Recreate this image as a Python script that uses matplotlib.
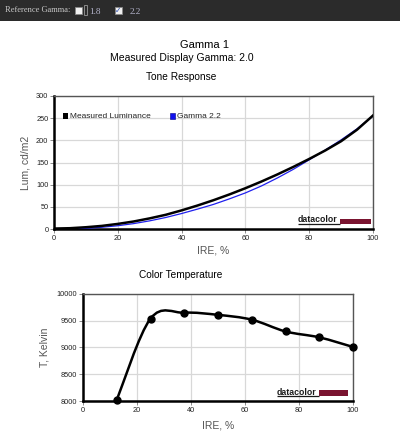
import numpy as np
import matplotlib
matplotlib.use("Agg")
import matplotlib.pyplot as plt
from matplotlib.path import Path
from matplotlib.patches import PathPatch, Rectangle

plt.rcParams['font.family'] = ['Liberation Sans', 'DejaVu Sans']

# ---- data ----
ire = [0, 5, 10, 15, 20, 25, 30, 35, 40, 45, 50, 55, 60, 65, 70, 75, 80, 85, 90, 95, 100]
measured_lum = [1, 1.8, 4, 7, 11.5, 17, 24, 32, 42, 53, 65, 78, 92, 107, 123, 140, 158, 177, 198, 224, 256]
gamma22_lum = [0, 0.3, 1.6, 3.9, 7.4, 12.2, 18.4, 25.9, 34.9, 44.9, 55.5, 68, 81.4, 97, 115, 134.5, 156, 178, 201, 226, 255]

ct_ire = [12.5, 25, 37.5, 50, 62.5, 75, 87.5, 100]
ct_kelvin = [8020, 9540, 9650, 9610, 9520, 9300, 9190, 9010]

lum_ticks = [0, 50, 100, 150, 200, 250, 300]
ire_ticks = [0, 20, 40, 60, 80, 100]
ct_ticks = [8000, 8500, 9000, 9500, 10000]

W, H = 400, 438
fig = plt.figure(figsize=(W / 100, H / 100), dpi=100)
fig.patch.set_facecolor('white')

# ---- top dark bar ----
serif = ['Liberation Serif', 'DejaVu Serif']
fig.patches.append(Rectangle((0, 1 - 21 / H), 1, 21 / H, transform=fig.transFigure,
                             facecolor='#2b2b2b', edgecolor='none', zorder=0))
fig.text(5 / W, 1 - 10.5 / H, 'Reference Gamma:', color='#c8c8c8', fontsize=6.0,
         family=serif, va='center', ha='left')
fig.patches.append(Rectangle((75 / W, 1 - 14 / H), 7 / W, 7 / H, transform=fig.transFigure,
                             facecolor='#f0f0f0', edgecolor='#888888', lw=0.6, zorder=2))
fig.patches.append(Rectangle((84 / W, 1 - 15 / H), 3 / W, 10 / H, transform=fig.transFigure,
                             facecolor='none', edgecolor='#999999', lw=0.6, zorder=2))
fig.text(89.5 / W, 1 - 11.5 / H, '1.8', color='#b8b8d0', fontsize=6.6,
         family=serif, va='center', ha='left')
fig.patches.append(Rectangle((115 / W, 1 - 14 / H), 7 / W, 7 / H, transform=fig.transFigure,
                             facecolor='#f0f0f0', edgecolor='#888888', lw=0.6, zorder=2))
fig.text(118.5 / W, 1 - 10.5 / H, '✓', color='#3050b0', fontsize=5.5,
         va='center', ha='center', family=['DejaVu Sans'])
fig.text(129.5 / W, 1 - 11.5 / H, '2.2', color='#b8b8d0', fontsize=6.6,
         family=serif, va='center', ha='left')

# ---- titles ----
fig.text(205 / W, 1 - 45 / H, 'Gamma 1', fontsize=8, ha='center', va='center', color='black')
fig.text(182 / W, 1 - 58 / H, 'Measured Display Gamma: 2.0', fontsize=7.5, ha='center', va='center', color='black')
fig.text(181 / W, 1 - 77 / H, 'Tone Response', fontsize=7.3, ha='center', va='center', color='black')
fig.text(181 / W, 1 - 275 / H, 'Color Temperature', fontsize=7.3, ha='center', va='center', color='black')


def style_axes(ax):
    ax.set_facecolor('white')
    ax.grid(True, color='#d8d8d8', lw=0.9)
    ax.set_axisbelow(True)
    for s in ['top', 'right']:
        ax.spines[s].set_color('#555555')
        ax.spines[s].set_linewidth(1.0)
    for s in ['left', 'bottom']:
        ax.spines[s].set_color('black')
        ax.spines[s].set_linewidth(1.8)
    ax.tick_params(axis='both', labelsize=5.3, length=3, width=0.6, color='#777777',
                   labelcolor='#222222', pad=1)


def logo(ax, ax_x0, ax_w, ax_bottom, ax_h, tx0, tx1, tx2, y_base, y_under, y_bar_top):
    # all inputs in figure pixels (y measured from top)
    fx = lambda v: (v - ax_x0) / ax_w
    fy = lambda v: (ax_bottom - v) / ax_h
    ax.text(fx(tx0), fy(y_base), 'datacolor', transform=ax.transAxes, fontsize=6.3,
            fontweight='bold', color='#1a1a1a', ha='left', va='baseline', zorder=5)
    ax.plot([fx(tx0), fx(tx1)], [fy(y_under), fy(y_under)], transform=ax.transAxes,
            color='#1a1a1a', lw=0.9, solid_capstyle='butt', zorder=5)
    ax.add_patch(Rectangle((fx(tx1), fy(y_under)), fx(tx2) - fx(tx1), fy(y_bar_top) - fy(y_under),
                           transform=ax.transAxes, facecolor='#7a1430', edgecolor='none', zorder=5))


# ---- Tone response ----
ax1 = fig.add_axes([54 / W, 1 - 229 / H, (373 - 54) / W, (229 - 96) / H])
style_axes(ax1)
ax1.plot(ire, gamma22_lum, color='#2020ee', lw=0.9, zorder=3)
ax1.plot(ire, measured_lum, color='black', lw=1.8, zorder=4)
ax1.set_xlim(0, 100)
ax1.set_ylim(0, 300)
ax1.set_xticks(ire_ticks)
ax1.set_yticks(lum_ticks)
ax1.set_xlabel('IRE, %', fontsize=7.5, color='#555555', labelpad=3)
ax1.set_ylabel('Lum, cd/m2', fontsize=7.5, color='#555555', labelpad=4)
# legend
ax1.add_patch(Rectangle((0.029, 0.825), 0.016, 0.045, transform=ax1.transAxes,
                        facecolor='black', edgecolor='none', zorder=5))
ax1.text(0.05, 0.848, 'Measured Luminance', transform=ax1.transAxes, fontsize=6,
         va='center', ha='left', color='#222222')
ax1.add_patch(Rectangle((0.364, 0.825), 0.016, 0.045, transform=ax1.transAxes,
                        facecolor='#1010ee', edgecolor='#000088', lw=0.4, zorder=5))
ax1.text(0.385, 0.848, 'Gamma 2.2', transform=ax1.transAxes, fontsize=6,
         va='center', ha='left', color='#222222')
logo(ax1, 54, 319, 229, 133, 298, 340, 371, 222.3, 223.5, 219)

# ---- Color temperature ----
ax2 = fig.add_axes([83 / W, 1 - 401 / H, (353 - 83) / W, (401 - 294) / H])
style_axes(ax2)

# smooth curve through points (Catmull-Rom as cubic Bezier)
px = np.array(ct_ire, float)
py = np.array(ct_kelvin, float)
pts = np.column_stack([px, py])
ext = np.vstack([pts[0], pts, pts[-1]])
verts = [tuple(pts[0])]
codes = [Path.MOVETO]
for i in range(1, len(ext) - 2):
    p0, p1, p2, p3 = ext[i - 1], ext[i], ext[i + 1], ext[i + 2]
    c1 = p1 + (p2 - p0) / 6.0
    c2 = p2 - (p3 - p1) / 6.0
    verts += [tuple(c1), tuple(c2), tuple(p2)]
    codes += [Path.CURVE4] * 3
ax2.add_patch(PathPatch(Path(verts, codes), facecolor='none', edgecolor='black', lw=1.8,
                        zorder=4, clip_on=False))
ax2.plot(ct_ire, ct_kelvin, 'o', color='black', ms=5, zorder=5, clip_on=False)
ax2.set_xlim(0, 100)
ax2.set_ylim(8000, 10000)
ax2.set_xticks(ire_ticks)
ax2.set_yticks(ct_ticks)
ax2.set_xlabel('IRE, %', fontsize=7.5, color='#555555', labelpad=5)
ax2.set_ylabel('T, Kelvin', fontsize=7.5, color='#555555', labelpad=5)
logo(ax2, 83, 270, 401, 107, 277, 319, 348, 395, 396, 390)

fig.savefig('out.png', dpi=100, facecolor='white')
